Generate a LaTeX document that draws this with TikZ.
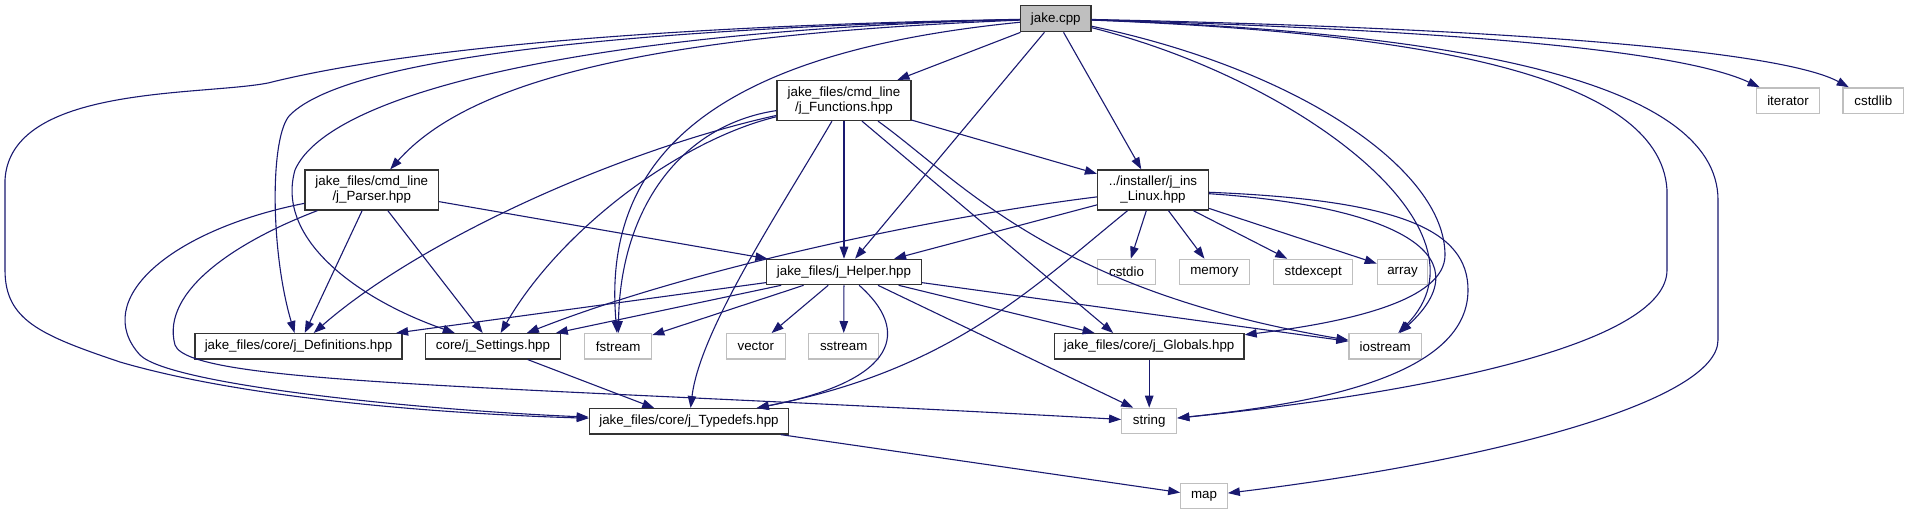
\documentclass[tikz,border=0pt]{standalone}
\usepackage{fontspec}
\setmainfont{Liberation Sans}
\usetikzlibrary{arrows.meta}
\definecolor{edgec}{HTML}{191970}
\definecolor{sysc}{HTML}{BFBFBF}
\definecolor{rootfill}{HTML}{BFBFBF}
\definecolor{hdrc}{HTML}{333333}
\newcommand\nodefnt{\fontsize{13.33}{15}\selectfont}
\tikzset{
  box/.style={inner sep=0pt, font=\nodefnt, align=center, minimum height=25.3pt, fill=white},
  hdr/.style={box, draw=hdrc, line width=1.3pt},
  sys/.style={box, draw=sysc, line width=1.3pt},
  root/.style={box, draw=hdrc, fill=rootfill, line width=1.3pt, minimum height=26pt},
  two/.style={minimum height=40pt},
  dep/.style={draw=edgec, line width=1.1pt, -{Triangle[length=12pt,width=8.5pt]}}
}
\begin{document}
\begin{tikzpicture}[x=1pt,y=-1pt]
\useasboundingbox (0,0) rectangle (1909,515);
% nodes
\node[root, minimum width=70.5pt] (jake) at (1055.8,18.7) {jake.cpp};
\node[hdr, two, minimum width=134pt] (functions) at (844,100.5) {jake\_files/cmd\_line\\/j\_Functions.hpp};
\node[hdr, two, minimum width=133.5pt] (parser) at (371.8,190) {jake\_files/cmd\_line\\/j\_Parser.hpp};
\node[hdr, two, minimum width=111pt] (linux) at (1153,190) {../installer/j\_ins\\\_Linux.hpp};
\node[sys, minimum width=63pt] (iterator) at (1788,100.5) {iterator};
\node[sys, minimum width=60.6pt] (cstdlib) at (1873.3,100.5) {cstdlib};
\node[hdr, minimum width=154.6pt] (helper) at (844,272) {jake\_files/j\_Helper.hpp};
\node[sys, minimum width=57.6pt] (cstdio) at (1126.5,272) {cstdio};
\node[sys, minimum width=70pt] (memory) at (1214.4,272) {memory};
\node[sys, minimum width=79pt] (stdexcept) at (1313.2,272) {stdexcept};
\node[sys, minimum width=50.4pt] (array) at (1402.5,272) {array};
\node[hdr, minimum width=207pt] (defs) at (298.5,346.3) {jake\_files/core/j\_Definitions.hpp};
\node[hdr, minimum width=134.5pt] (settings) at (493,346.3) {core/j\_Settings.hpp};
\node[sys, minimum width=67pt] (fstream) at (618.2,346.3) {fstream};
\node[sys, minimum width=59pt] (vector) at (755.8,346.3) {vector};
\node[sys, minimum width=70pt] (sstream) at (843.7,346.3) {sstream};
\node[hdr, minimum width=189.7pt] (globals) at (1149.2,346.3) {jake\_files/core/j\_Globals.hpp};
\node[sys, minimum width=72.3pt] (iostream) at (1385.2,346.3) {iostream};
\node[hdr, minimum width=199.4pt] (typedefs) at (689,421.3) {jake\_files/core/j\_Typedefs.hpp};
\node[sys, minimum width=55pt] (string) at (1149.2,421) {string};
\node[sys, minimum width=46.4pt] (map) at (1204,496) {map};
% jake.cpp
\draw[dep] (jake) -- (functions);
\draw[dep] (jake) .. controls (650,35) and (470,80) .. (parser);
\draw[dep] (jake) -- (helper);
\draw[dep] (jake) -- (linux);
\draw[dep] (jake) .. controls (740,50) and (600,140) .. (fstream);
\draw[dep] (jake) .. controls (650,28) and (350,55) .. (290,115) .. controls (270,135) and (270,250) .. (defs);
\draw[dep] (jake) .. controls (600,30) and (330,90) .. (295,170) .. controls (275,240) and (360,300) .. (settings);
\draw[dep] (jake) .. controls (700,25) and (420,45) .. (268,83) .. controls (200,96) and (10,85) .. (5,180) -- (5,270) .. controls (5,320) and (40,335) .. (120,362) .. controls (250,400) and (450,414) .. (typedefs);
\draw[dep] (jake) .. controls (1300,70) and (1445,170) .. (1445,255) .. controls (1445,300) and (1350,322) .. (globals);
\draw[dep] (jake) .. controls (1300,80) and (1500,230) .. (iostream);
\draw[dep] (jake) .. controls (1400,32) and (1660,70) .. (1667,190) -- (1667,270) .. controls (1667,340) and (1450,390) .. (string);
\draw[dep] (jake) .. controls (1450,32) and (1718,80) .. (1718,200) -- (1718,340) .. controls (1718,400) and (1500,460) .. (map);
\draw[dep] (jake) .. controls (1450,30) and (1680,50) .. (iterator);
\draw[dep] (jake) .. controls (1500,28) and (1780,50) .. (cstdlib);
% j_Functions
\draw[dep] (functions) -- (linux);
\draw[dep] (functions) -- (helper);
\draw[dep] (functions) .. controls (780,210) and (700,330) .. (typedefs);
\draw[dep] ([xshift=18pt]functions.south) -- ([xshift=-36pt]globals.north);
\draw[dep] ([xshift=34pt]functions.south) .. controls (960,180) and (1050,290) .. (iostream);
\draw[dep] (functions) .. controls (680,125) and (620,210) .. (fstream);
\draw[dep] (functions) .. controls (680,140) and (560,230) .. (settings);
\draw[dep] (functions) .. controls (620,150) and (420,240) .. (defs);
% j_Parser
\draw[dep] (parser) -- (helper);
\draw[dep] (parser) -- (defs);
\draw[dep] (parser) -- (settings);
\draw[dep] (parser) .. controls (170,230) and (90,300) .. (140,355) .. controls (170,385) and (420,410) .. (typedefs);
\draw[dep] (parser) .. controls (240,240) and (160,290) .. (175,345) .. controls (190,385) and (500,385) .. (string);
% j_ins_Linux
\draw[dep] (linux) -- (helper);
\draw[dep] (linux) .. controls (950,215) and (700,265) .. (settings);
\draw[dep] (linux) .. controls (1030,290) and (950,370) .. (typedefs);
\draw[dep] (linux) -- (cstdio);
\draw[dep] (linux) -- (memory);
\draw[dep] (linux) -- (stdexcept);
\draw[dep] (linux) -- (array);
\draw[dep] (linux) .. controls (1380,205) and (1490,250) .. (iostream);
\draw[dep] (linux) .. controls (1400,200) and (1468,230) .. (1468,290) .. controls (1468,380) and (1300,405) .. (string);
% j_Helper
\draw[dep] (helper) -- (defs);
\draw[dep] (helper) -- (settings);
\draw[dep] (helper) -- (fstream);
\draw[dep] (helper) -- (vector);
\draw[dep] (helper) -- (sstream);
\draw[dep] (helper) .. controls (910,330) and (900,380) .. (typedefs);
\draw[dep] ([xshift=34pt]helper.south) -- ([xshift=-16pt]string.north);
\draw[dep] (helper) -- (globals);
\draw[dep] (helper) -- (iostream);
% others
\draw[dep] (settings) -- (typedefs);
\draw[dep] (globals) -- (string);
\draw[dep] (typedefs) -- (map);
\end{tikzpicture}
\end{document}
